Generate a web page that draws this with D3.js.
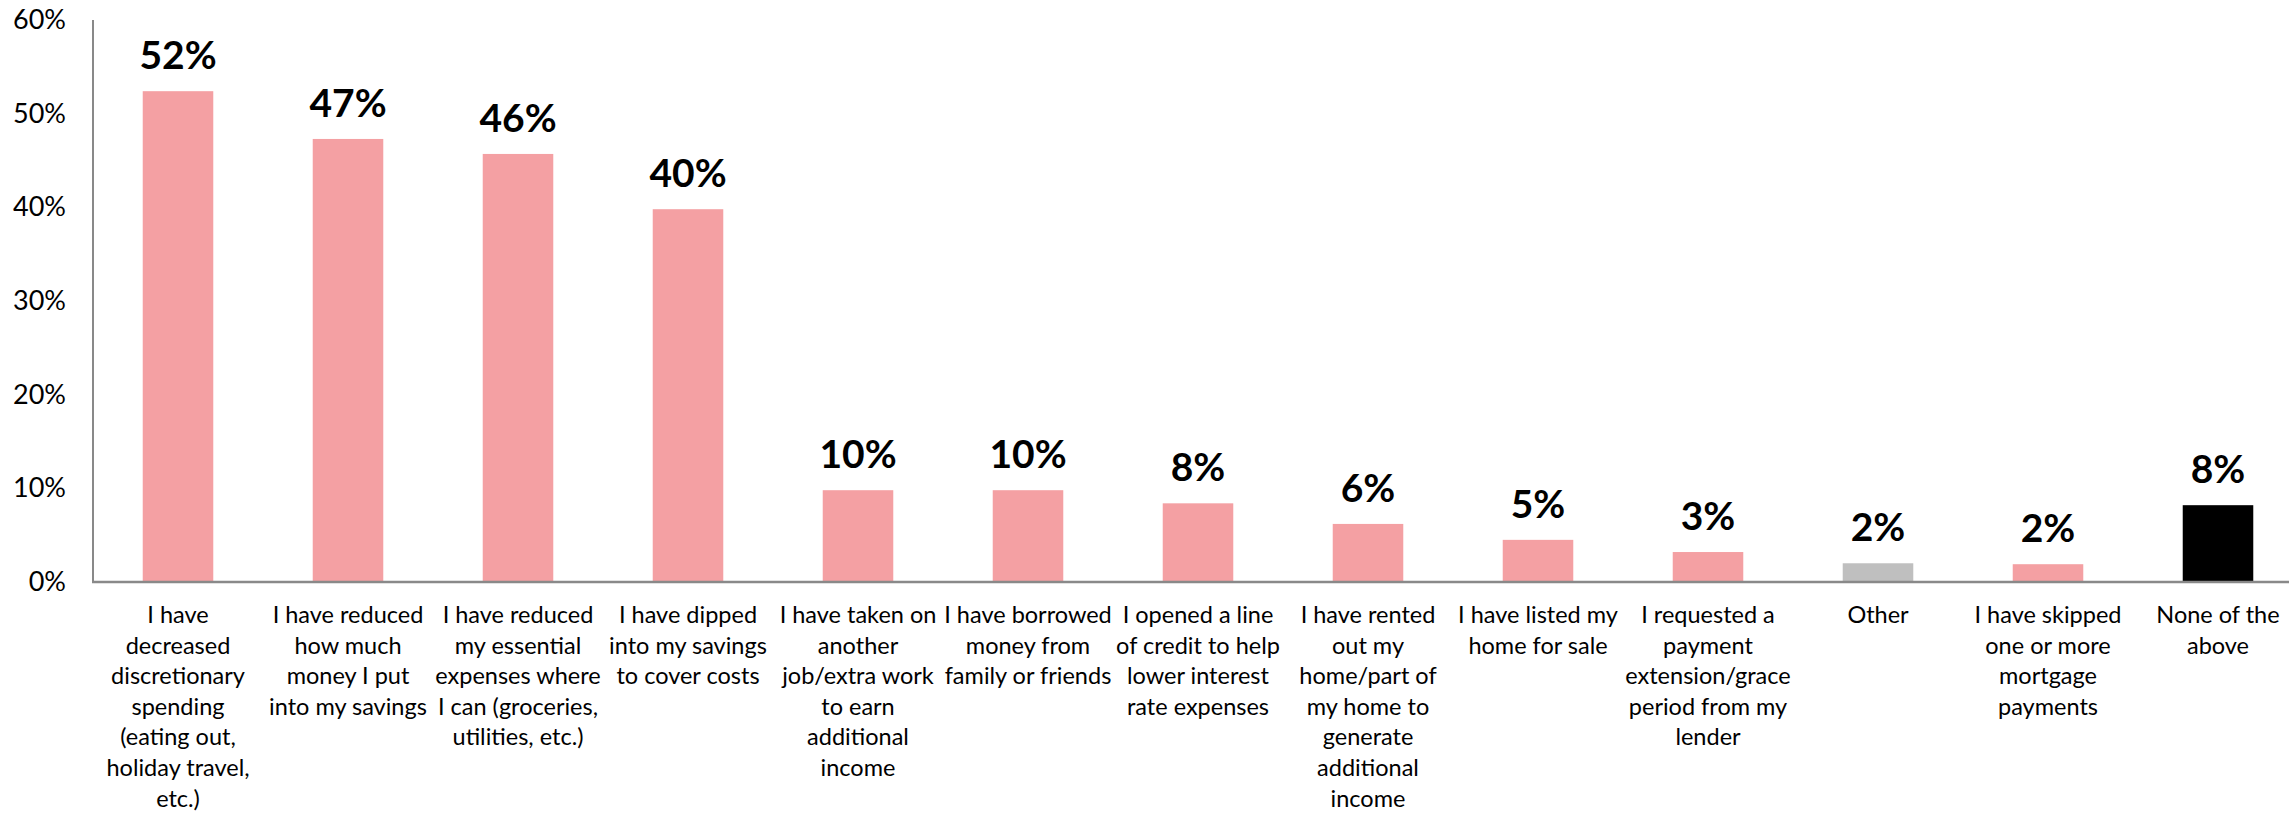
<!DOCTYPE html>
<html>
<head>
<meta charset="utf-8">
<script src="https://cdn.jsdelivr.net/npm/d3@7"></script>
<style>
  html, body { margin: 0; padding: 0; background: #ffffff; }
  svg { display: block; }
  text { font-family: Lato, "Liberation Sans", sans-serif; fill: #000; }
</style>
</head>
<body>
<svg id="chart" width="2289" height="813"></svg>
<script>
// Actions taken in response to higher costs (% of respondents)
const categories = [
  "Decreased discretionary spending",
  "Reduced savings contributions",
  "Reduced essential expenses",
  "Dipped into savings",
  "Took on extra work",
  "Borrowed from family or friends",
  "Opened a line of credit",
  "Rented out home",
  "Listed home for sale",
  "Requested payment extension",
  "Other",
  "Skipped mortgage payments",
  "None of the above"
];

// Category labels, one entry per line
const categoryLines = [
  ["I have", "decreased", "discretionary", "spending", "(eating out,", "holiday travel,", "etc.)"],
  ["I have reduced", "how much", "money I put", "into my savings"],
  ["I have reduced", "my essential", "expenses where", "I can (groceries,", "utilities, etc.)"],
  ["I have dipped", "into my savings", "to cover costs"],
  ["I have taken on", "another", "job/extra work", "to earn", "additional", "income"],
  ["I have borrowed", "money from", "family or friends"],
  ["I opened a line", "of credit to help", "lower interest", "rate expenses"],
  ["I have rented", "out my", "home/part of", "my home to", "generate", "additional", "income"],
  ["I have listed my", "home for sale"],
  ["I requested a", "payment", "extension/grace", "period from my", "lender"],
  ["Other"],
  ["I have skipped", "one or more", "mortgage", "payments"],
  ["None of the", "above"]
];

// Share of respondents, percent
const values = [52.4, 47.3, 45.7, 39.8, 9.8, 9.8, 8.4, 6.2, 4.5, 3.2, 2.0, 1.9, 8.2];

// Bar group: action, other, none
const groups = ["action", "action", "action", "action", "action", "action", "action",
                "action", "action", "action", "other", "action", "none"];

const yTicks = [0, 10, 20, 30, 40, 50, 60];
const groupColors = { action: "#F4A0A3", other: "#BFBFBF", none: "#000000" };

const data = categories.map((c, i) => ({
  category: c, lines: categoryLines[i], value: values[i], group: groups[i]
}));

const svg = d3.select("#chart");
const W = 2289;
const plotLeft = 93, plotTop = 20, plotBottom = 582;
const step = 170;

const x = d3.scaleBand()
  .domain(categories)
  .range([plotLeft, plotLeft + step * categories.length])
  .paddingInner(0.585)
  .paddingOuter(0.2925);

const y = d3.scaleLinear()
  .domain([0, 60])
  .range([plotBottom, plotTop]);

// Y axis with percent ticks
const yAxis = d3.axisLeft(y)
  .tickValues(yTicks)
  .tickFormat(d => d + "%")
  .tickSize(0)
  .tickPadding(27);

const gy = svg.append("g")
  .attr("transform", `translate(${plotLeft},0)`)
  .call(yAxis);
gy.select(".domain").remove();
gy.selectAll("text")
  .style("font-size", "27px")
  .style("font-family", "Lato, 'Liberation Sans', sans-serif")
  .attr("fill", "#000");

// Bars
svg.append("g")
  .selectAll("rect")
  .data(data)
  .join("rect")
  .attr("x", d => x(d.category))
  .attr("y", d => y(d.value))
  .attr("width", x.bandwidth())
  .attr("height", d => y(0) - y(d.value))
  .attr("fill", d => groupColors[d.group]);

// Value labels
svg.append("g")
  .selectAll("text")
  .data(data)
  .join("text")
  .attr("x", d => x(d.category) + x.bandwidth() / 2)
  .attr("y", d => y(d.value) - 22)
  .attr("text-anchor", "middle")
  .style("font-size", "39px")
  .style("font-weight", "bold")
  .text(d => Math.round(d.value) + "%");

// Axis lines
svg.append("line")
  .attr("x1", plotLeft).attr("x2", plotLeft)
  .attr("y1", plotTop).attr("y2", plotBottom)
  .attr("stroke", "#898989").attr("stroke-width", 2);
svg.append("line")
  .attr("x1", plotLeft - 1).attr("x2", W)
  .attr("y1", plotBottom).attr("y2", plotBottom)
  .attr("stroke", "#898989").attr("stroke-width", 2.5);

// Category labels, wrapped
const xAxis = d3.axisBottom(x).tickSize(0).tickFormat(() => "");
const gx = svg.append("g")
  .attr("transform", `translate(0,${plotBottom})`)
  .call(xAxis);
gx.select(".domain").remove();
gx.selectAll(".tick text").remove();
gx.selectAll(".tick")
  .append("text")
  .attr("text-anchor", "middle")
  .style("font-size", "23.5px")
  .each(function(d, i) {
    const t = d3.select(this);
    categoryLines[i].forEach((line, j) => {
      t.append("tspan")
        .attr("x", 0)
        .attr("y", 41 + j * 30.6)
        .text(line);
    });
  });
</script>
</body>
</html>
